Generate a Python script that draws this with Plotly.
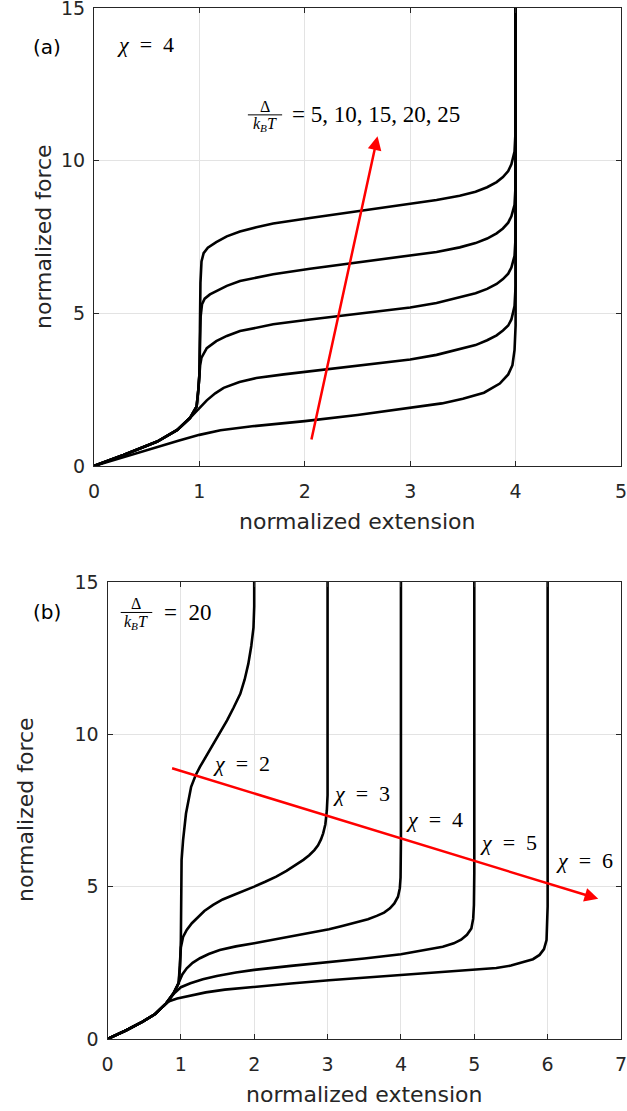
import plotly.graph_objects as go

# ---------------- Panel (a): chi = 4, Delta/kBT = 5..25 ----------------
a_labels = ["5", "10", "15", "20", "25"]
a_x = [
    [0, 0.3, 0.6, 0.8, 1.0, 1.2, 1.5, 2.0, 2.5, 3.0, 3.3, 3.5, 3.7, 3.85, 3.93, 3.97, 3.99, 4.0, 4.0],
    [0, 0.28, 0.6, 0.79, 0.91, 0.96, 1.02, 1.07, 1.15, 1.23, 1.38, 1.54, 1.8, 2.05, 2.5, 3.0, 3.25, 3.47, 3.62, 3.73, 3.82, 3.88, 3.93, 3.96, 3.99, 4.0, 4.0],
    [0, 0.28, 0.6, 0.79, 0.91, 0.974, 0.99, 1.0, 1.007, 1.02, 1.07, 1.16, 1.26, 1.385, 1.54, 1.7, 2.05, 2.5, 3.0, 3.25, 3.47, 3.62, 3.73, 3.82, 3.88, 3.93, 3.96, 3.99, 4.0, 4.0],
    [0, 0.28, 0.6, 0.79, 0.91, 0.974, 0.99, 1.0, 1.006, 1.012, 1.025, 1.05, 1.1, 1.16, 1.26, 1.385, 1.54, 1.7, 2.05, 2.5, 3.0, 3.25, 3.47, 3.62, 3.73, 3.82, 3.88, 3.93, 3.96, 3.99, 4.0, 4.0],
    [0, 0.28, 0.6, 0.79, 0.91, 0.974, 0.99, 1.0, 1.005, 1.01, 1.02, 1.04, 1.08, 1.16, 1.26, 1.385, 1.54, 1.7, 2.05, 2.5, 3.0, 3.25, 3.47, 3.62, 3.73, 3.82, 3.88, 3.93, 3.96, 3.99, 4.0, 4.0],
]
a_y = [
    [0, 0.32, 0.63, 0.83, 1.02, 1.17, 1.3, 1.47, 1.67, 1.9, 2.05, 2.2, 2.4, 2.7, 3.0, 3.3, 3.8, 4.6, 15],
    [0, 0.36, 0.8, 1.18, 1.57, 1.75, 1.98, 2.15, 2.38, 2.56, 2.75, 2.88, 3.0, 3.1, 3.28, 3.49, 3.64, 3.82, 3.96, 4.12, 4.28, 4.44, 4.6, 4.8, 5.24, 5.9, 15],
    [0, 0.36, 0.8, 1.18, 1.57, 1.95, 2.5, 3.0, 3.3, 3.55, 3.86, 4.09, 4.26, 4.42, 4.54, 4.64, 4.8, 4.98, 5.19, 5.34, 5.52, 5.66, 5.8, 5.96, 6.12, 6.3, 6.5, 6.88, 7.5, 15],
    [0, 0.36, 0.8, 1.18, 1.57, 1.95, 2.5, 3.0, 4.0, 4.9, 5.3, 5.48, 5.62, 5.73, 5.9, 6.06, 6.18, 6.28, 6.46, 6.66, 6.88, 7.01, 7.16, 7.3, 7.45, 7.62, 7.78, 7.97, 8.18, 8.55, 9.2, 15],
    [0, 0.36, 0.8, 1.18, 1.57, 1.95, 2.5, 3.0, 4.5, 6.0, 6.7, 6.97, 7.15, 7.33, 7.52, 7.68, 7.82, 7.94, 8.12, 8.34, 8.58, 8.71, 8.85, 8.98, 9.13, 9.3, 9.46, 9.66, 9.88, 10.3, 11.0, 15],
]
a_arrow_tail = (2.06, 0.82)
a_arrow_tip = (2.69, 10.8)

# ---------------- Panel (b): Delta/kBT = 20, chi = 2..6 ----------------
b_labels = ["2", "3", "4", "5", "6"]
b_x = [
    [0, 0.25, 0.48, 0.65, 0.8, 0.9, 0.97, 0.99, 1.0, 1.005, 1.01, 1.03, 1.07, 1.14, 1.2, 1.26, 1.35, 1.45, 1.54, 1.63, 1.72, 1.81, 1.87, 1.92, 1.96, 1.99, 2.0, 2.0],
    [0, 0.25, 0.48, 0.65, 0.8, 0.9, 0.97, 0.99, 1.0, 1.03, 1.08, 1.15, 1.22, 1.32, 1.44, 1.57, 1.71, 1.85, 2.0, 2.15, 2.3, 2.44, 2.57, 2.67, 2.75, 2.82, 2.87, 2.91, 2.94, 2.97, 2.99, 3.0, 3.0],
    [0, 0.25, 0.48, 0.65, 0.8, 0.9, 0.97, 1.02, 1.08, 1.16, 1.26, 1.38, 1.53, 1.75, 2.0, 2.3, 2.62, 3.02, 3.2, 3.4, 3.55, 3.67, 3.77, 3.85, 3.91, 3.96, 3.985, 3.995, 4.0, 4.0],
    [0, 0.25, 0.48, 0.65, 0.8, 0.91, 1.0, 1.13, 1.3, 1.49, 1.75, 2.0, 2.5, 3.02, 3.5, 4.0, 4.3, 4.57, 4.72, 4.82, 4.9, 4.96, 4.985, 4.995, 5.0, 5.0],
    [0, 0.25, 0.48, 0.65, 0.8, 0.85, 0.95, 1.08, 1.2, 1.34, 1.6, 2.0, 2.5, 3.02, 3.5, 4.0, 4.5, 5.0, 5.3, 5.5, 5.66, 5.8, 5.89, 5.95, 5.985, 5.995, 6.0, 6.0],
]
b_y = [
    [0, 0.28, 0.57, 0.82, 1.17, 1.5, 1.83, 2.4, 3.25, 4.6, 5.87, 6.52, 7.4, 8.28, 8.65, 8.93, 9.3, 9.69, 10.07, 10.46, 10.88, 11.33, 11.8, 12.32, 12.9, 13.5, 14.2, 15],
    [0, 0.28, 0.57, 0.82, 1.17, 1.5, 1.83, 2.6, 3.0, 3.35, 3.58, 3.8, 3.96, 4.2, 4.4, 4.58, 4.72, 4.85, 5.0, 5.16, 5.33, 5.52, 5.71, 5.88, 6.03, 6.2, 6.36, 6.55, 6.75, 7.05, 7.5, 8.0, 15],
    [0, 0.28, 0.57, 0.82, 1.17, 1.5, 1.85, 2.12, 2.32, 2.5, 2.65, 2.79, 2.92, 3.04, 3.14, 3.27, 3.41, 3.6, 3.71, 3.83, 3.93, 4.04, 4.15, 4.29, 4.45, 4.67, 4.95, 5.3, 6.5, 15],
    [0, 0.28, 0.57, 0.82, 1.17, 1.5, 1.7, 1.83, 1.96, 2.07, 2.18, 2.27, 2.4, 2.52, 2.64, 2.78, 2.9, 3.03, 3.14, 3.26, 3.42, 3.63, 3.95, 4.4, 5.43, 15],
    [0, 0.28, 0.57, 0.82, 1.17, 1.25, 1.33, 1.39, 1.46, 1.53, 1.62, 1.72, 1.82, 1.93, 2.01, 2.1, 2.18, 2.27, 2.33, 2.41, 2.51, 2.62, 2.76, 2.95, 3.25, 3.7, 4.35, 15],
]
b_label_pos = [(1.82, 9.05), (3.46, 8.05), (4.46, 7.2), (5.47, 6.45), (6.5, 5.85)]
b_arrow_tail = (0.86, 8.9)
b_arrow_tip = (6.69, 4.6)

x_ticks_a = [0, 1, 2, 3, 4, 5]
x_ticks_b = [0, 1, 2, 3, 4, 5, 6, 7]
y_ticks = [0, 5, 10, 15]

W, H = 627, 1111
AX = "#262626"
GRID = "#e3e3e3"
SANS = "DejaVu Sans"
SERIF = "Liberation Serif"
SP = "\u2002"  # math-like spacing around '='

fig = go.Figure()
for xs, ys, lab in zip(a_x, a_y, a_labels):
    fig.add_trace(go.Scatter(x=xs, y=ys, mode="lines", name=lab,
                             line=dict(color="black", width=2.6),
                             xaxis="x", yaxis="y", showlegend=False))
for xs, ys, lab in zip(b_x, b_y, b_labels):
    fig.add_trace(go.Scatter(x=xs, y=ys, mode="lines", name=lab,
                             line=dict(color="black", width=2.6),
                             xaxis="x2", yaxis="y2", showlegend=False))

def px2fx(p):
    return p / W

def py2fy(p):
    return 1 - p / H

axis_common = dict(showline=True, linecolor=AX, linewidth=1, mirror="ticks",
                   ticks="inside", ticklen=5, tickcolor=AX, tickwidth=1,
                   showgrid=True, gridcolor=GRID, gridwidth=1, zeroline=False,
                   automargin=False, ticklabeloverflow="allow",
                   tickfont=dict(family=SANS, size=19, color=AX))

fig.update_layout(
    width=W, height=H, margin=dict(l=0, r=0, t=0, b=0, pad=0, autoexpand=False),
    paper_bgcolor="white", plot_bgcolor="white",
    xaxis=dict(domain=[px2fx(94), px2fx(621)], range=[0, 5], tickvals=x_ticks_a,
               anchor="y", ticklabelstandoff=8, **axis_common),
    yaxis=dict(domain=[py2fy(466), py2fy(8)], range=[0, 15], tickvals=y_ticks,
               anchor="x", ticklabelstandoff=4, **axis_common),
    xaxis2=dict(domain=[px2fx(107.5), px2fx(621)], range=[0, 7], tickvals=x_ticks_b,
                anchor="y2", ticklabelstandoff=8, **axis_common),
    yaxis2=dict(domain=[py2fy(1039), py2fy(582)], range=[0, 15], tickvals=y_ticks,
                anchor="x2", ticklabelstandoff=4, **axis_common),
)

def paper_text(text, px, py, size, color, angle=0):
    return dict(text=text, x=px2fx(px), y=py2fy(py), xref="paper", yref="paper",
                xanchor="center", yanchor="middle", textangle=angle, showarrow=False,
                font=dict(family=SANS, size=size, color=color))

ann = []
# axis titles
ann.append(paper_text("normalized extension", 357, 521, 22, AX))
ann.append(paper_text("normalized force", 43, 237, 22, AX, -90))
ann.append(paper_text("normalized extension", 364, 1094, 22, AX))
ann.append(paper_text("normalized force", 25, 810, 22, AX, -90))
# panel letters
ann.append(paper_text("(a)", 47, 47, 20, "black"))
ann.append(paper_text("(b)", 47, 612, 20, "black"))

def math_text(text, x, y, xr, yr, size, xanchor="center"):
    return dict(text=text, x=x, y=y, xref=xr, yref=yr, xanchor=xanchor, yanchor="middle",
                showarrow=False, font=dict(family=SERIF, size=size, color="black"))

# panel (a) math labels
ann.append(math_text("<i>χ</i>" + SP + "=" + SP + "4", 0.49, 13.8, "x", "y", 22))
ann.append(math_text("Δ", 1.62, 11.79, "x", "y", 16))
ann.append(math_text("<i>k</i><sub><i>B</i></sub><i>T</i>", 1.625, 11.2, "x", "y", 16))
ann.append(math_text("= 5, 10, 15, 20, 25", 1.86, 11.5, "x", "y", 23, "left"))

# panel (b) math labels
ann.append(math_text("Δ", 0.39, 14.28, "x2", "y2", 16))
ann.append(math_text("<i>k</i><sub><i>B</i></sub><i>T</i>", 0.395, 13.68, "x2", "y2", 16))
ann.append(math_text("=" + SP + "20", 0.74, 14.0, "x2", "y2", 23, "left"))
for lab, (lx, ly) in zip(b_labels, b_label_pos):
    ann.append(math_text("<i>χ</i>" + SP + "=" + SP + lab, lx, ly, "x2", "y2", 22))

# red arrows
ann.append(dict(text="", x=a_arrow_tip[0], y=a_arrow_tip[1], ax=a_arrow_tail[0], ay=a_arrow_tail[1],
                xref="x", yref="y", axref="x", ayref="y", showarrow=True,
                arrowhead=2, arrowsize=1.1, arrowwidth=2.5, arrowcolor="#ff0000", standoff=0))
ann.append(dict(text="", x=b_arrow_tip[0], y=b_arrow_tip[1], ax=b_arrow_tail[0], ay=b_arrow_tail[1],
                xref="x2", yref="y2", axref="x2", ayref="y2", showarrow=True,
                arrowhead=2, arrowsize=1.1, arrowwidth=2.5, arrowcolor="#ff0000", standoff=0))
fig.update_layout(annotations=ann)

# fraction bars
fig.add_shape(type="line", x0=1.46, x1=1.785, y0=11.5, y1=11.5, xref="x", yref="y",
              line=dict(color="black", width=1))
fig.add_shape(type="line", x0=0.18, x1=0.61, y0=14.0, y1=14.0, xref="x2", yref="y2",
              line=dict(color="black", width=1))

fig.write_html("out.html", config={"displayModeBar": False},
               post_script="document.body.style.margin='0px';document.body.style.padding='0px';")
